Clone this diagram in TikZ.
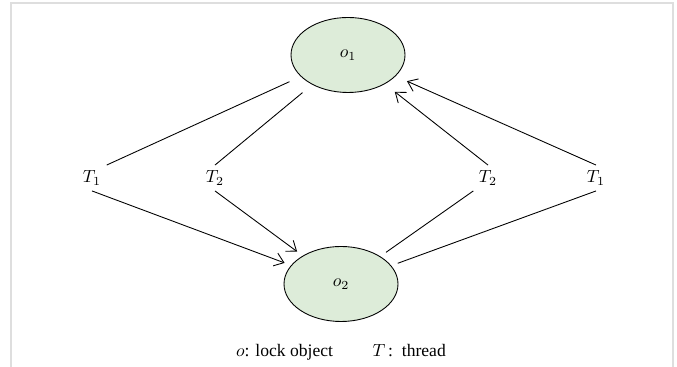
\documentclass[tikz,border=0pt]{standalone}
\usepackage{fontspec}
\setmainfont{Liberation Serif}
\usepackage{tikz}
\usetikzlibrary{shapes.geometric}
\usetikzlibrary{arrows.meta}
\definecolor{lockgreen}{RGB}{221,236,217}
\definecolor{rahmen}{RGB}{222,222,222}
\tikzset{
	lockobj/.style={ellipse, draw, fill=lockgreen, line width=0.5pt, minimum width=2.28cm, minimum height=1.5cm, outer sep=4pt},
	thread/.style={inner sep=3pt, font=\normalsize},
	wait/.style={line width=0.5pt, -{Straight Barb[length=1.8mm,width=2.7mm]}},
	hold/.style={line width=0.5pt}
}
\begin{document}
\begin{tikzpicture}

	\useasboundingbox (0, 0) rectangle (13.54, 7.34);
	\draw[rahmen, line width=1.2pt] (0.22, 0) -- (0.22, 7.28) -- (13.46, 7.28) -- (13.46, 0);

	\node[lockobj, outer sep=7pt] (o1) at (6.96, 6.24) {$o_1$};
	\node[lockobj] (o2) at (6.82, 1.66) {$o_2$};

	\node[thread] (T1l) at (1.84, 3.78) {$T_1$};
	\node[thread] (T2l) at (4.30, 3.78) {$T_2$};
	\node[thread] (T2r) at (9.76, 3.78) {$T_2$};
	\node[thread] (T1r) at (11.92, 3.78) {$T_1$};

	\draw[hold] (o1) -- (T1l.north east);
	\draw[hold] (o1) -- (T2l.north);
	\draw[wait] (T1l.south) -- (o2);
	\draw[wait] (T2l.south) -- (o2);

	\draw[wait] (T2r.north) -- (o1);
	\draw[wait] (T1r.north) -- (o1);
	\draw[hold] (o2) -- (T2r.south west);
	\draw[hold] (o2) -- (T1r.south);

	\node (legend) at (6.82, 0.30) {$o$: lock object \qquad $T$\,:\, thread};

\end{tikzpicture}
\end{document}
